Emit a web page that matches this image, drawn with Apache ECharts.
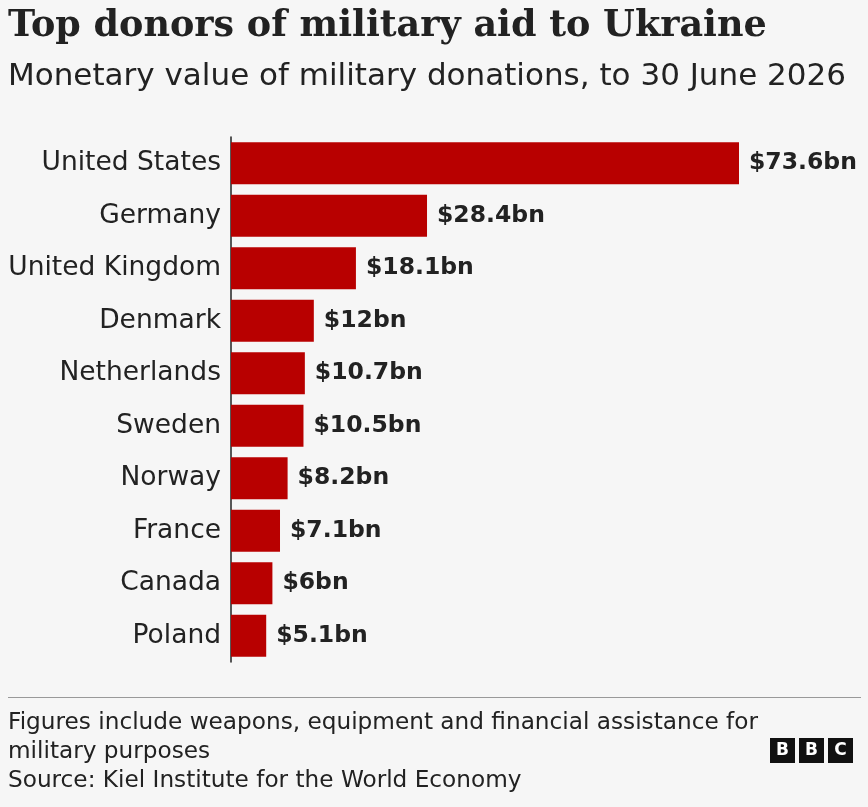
<!DOCTYPE html>
<html><head><meta charset="utf-8">
<script src="https://cdn.jsdelivr.net/npm/echarts@6/dist/echarts.min.js"></script>
<style>html,body{margin:0;padding:0;background:#f6f6f6}#c{width:868px;height:807px}</style>
</head><body><div id="c"></div>
<script>
const countries = ["United States","Germany","United Kingdom","Denmark","Netherlands","Sweden","Norway","France","Canada","Poland"];
const values = [73.6,28.4,18.1,12,10.7,10.5,8.2,7.1,6,5.1];
const labels = ["$73.6bn","$28.4bn","$18.1bn","$12bn","$10.7bn","$10.5bn","$8.2bn","$7.1bn","$6bn","$5.1bn"];
const chart = echarts.init(document.getElementById('c'));
const F = "'DejaVu Sans', sans-serif";
const logo = ['B','B','C'].map((t,i)=>({type:'group',left:770+i*29,top:738,children:[
 {type:'rect',shape:{width:25,height:25},style:{fill:'#111'}},
 {type:'text',style:{text:t,x:12.5,y:13,align:'center',verticalAlign:'middle',fill:'#fff',font:"bold 17px 'DejaVu Sans'"}}]}));
chart.setOption({
 backgroundColor:'#f6f6f6',
 animation:false,
 grid:{left:231,top:137,width:508,height:525},
 xAxis:{type:'value',min:0,max:73.6,show:false},
 yAxis:{type:'category',inverse:true,data:countries,
  axisLine:{show:true,lineStyle:{color:'#222',width:1.5}},axisTick:{show:false},
  axisLabel:{color:'#222',fontSize:26.5,fontFamily:F,margin:10}},
 series:[{type:'bar',data:values,barWidth:42,itemStyle:{color:'#b80000'},
  label:{show:true,position:'right',distance:10,formatter:p=>labels[p.dataIndex],color:'#222',fontSize:23.5,fontWeight:'bold',fontFamily:F}}],
 graphic:[
  {type:'text',left:8,top:8,style:{text:'Top donors of military aid to Ukraine',fill:'#222',font:"bold 36.5px 'DejaVu Serif'"}},
  {type:'text',left:8,top:61,style:{text:'Monetary value of military donations, to 30 June 2026',fill:'#222',font:"31px 'DejaVu Sans'"}},
  {type:'rect',shape:{x:8,y:697,width:853,height:1},style:{fill:'#999'}},
  {type:'text',left:8,top:708,style:{text:'Figures include weapons, equipment and financial assistance for\nmilitary purposes\nSource: Kiel Institute for the World Economy',fill:'#222',font:"23.2px 'DejaVu Sans'",lineHeight:29}},
  ...logo
 ]
});
</script></body></html>
